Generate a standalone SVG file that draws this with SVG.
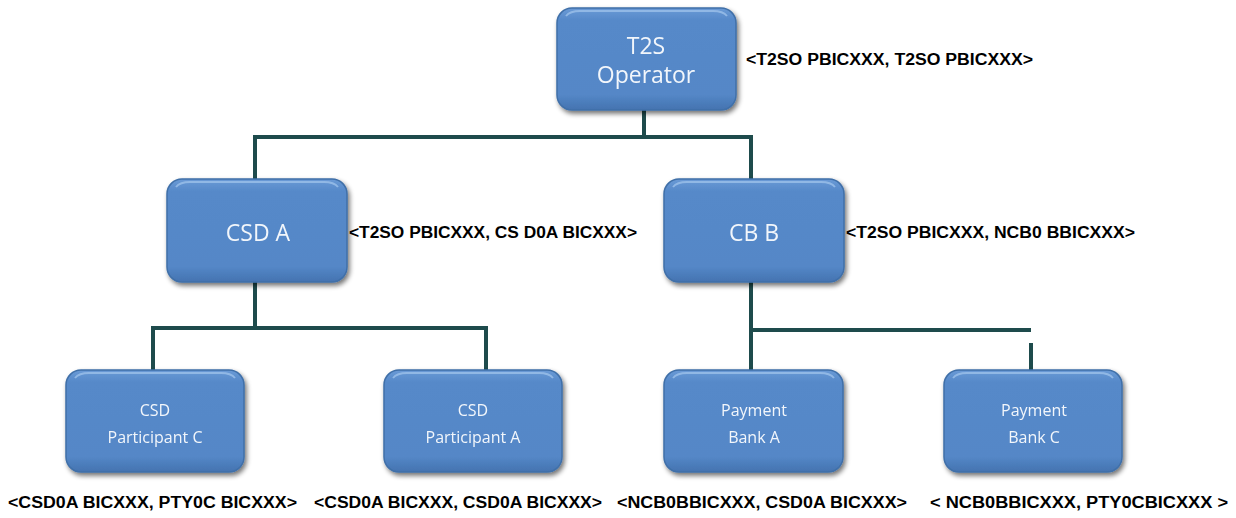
<svg xmlns="http://www.w3.org/2000/svg" width="1236" height="518" viewBox="0 0 1236 518">
<style>
.box{fill:url(#g);stroke:#3f6fa8;stroke-width:1.5}
.hl{fill:none;stroke:#9cc0ea;stroke-width:2;opacity:0.8}
.nt{font-family:"Open Sans","Liberation Sans",sans-serif;fill:#f2f6fb;text-anchor:middle}
.big{font-size:23px}
.sm{font-size:16px}
.lb{font-family:"Liberation Sans",Arial,sans-serif;font-weight:bold;font-size:16px;fill:#000}
.cn{fill:none;stroke:#1e4b4c;stroke-width:4}
</style>
<defs>
<linearGradient id="g" x1="0" y1="0" x2="0" y2="1">
<stop offset="0" stop-color="#6a9ad6"/>
<stop offset="0.12" stop-color="#5689c9"/>
<stop offset="0.85" stop-color="#5487c7"/>
<stop offset="1" stop-color="#4473b0"/>
</linearGradient>
<filter id="sh" x="-10%" y="-10%" width="125%" height="130%">
<feGaussianBlur in="SourceAlpha" stdDeviation="2.5"/>
<feOffset dx="2" dy="3" result="b"/>
<feComponentTransfer><feFuncA type="linear" slope="0.55"/></feComponentTransfer>
<feMerge><feMergeNode/><feMergeNode in="SourceGraphic"/></feMerge>
</filter>
</defs>
<g id="connectors">
<path class="cn" d="M644 110 V137 M255 137 H751 M255 135 V179 M751 135 V179"/>
<path class="cn" d="M255 282 V328 M153 328 H486 M153 326 V370 M486 326 V370"/>
<path class="cn" d="M751 282 V370 M749 330 H1031 M1031 343 V372"/>
</g>
<g id="t2s" filter="url(#sh)">
<rect class="box" x="557" y="8" width="179" height="102" rx="15"/>
<path class="hl" d="M566 16 Q570 11 580 11 H713 Q723 11 727 16"/>
<text class="nt big" x="646" y="54">T2S</text>
<text class="nt big" x="646" y="83">Operator</text>
</g>
<text class="lb" x="746" y="65" textLength="287" lengthAdjust="spacingAndGlyphs">&lt;T2SO PBICXXX, T2SO PBICXXX&gt;</text>
<g id="csda" filter="url(#sh)">
<rect class="box" x="167" y="179" width="180" height="103" rx="15"/>
<path class="hl" d="M176 187 Q180 182 190 182 H324 Q334 182 338 187"/>
<text class="nt big" x="258" y="241">CSD A</text>
</g>
<text class="lb" x="349" y="238" textLength="288" lengthAdjust="spacingAndGlyphs">&lt;T2SO PBICXXX, CS D0A BICXXX&gt;</text>
<g id="cbb" filter="url(#sh)">
<rect class="box" x="664" y="179" width="180" height="103" rx="15"/>
<path class="hl" d="M673 187 Q677 182 687 182 H821 Q831 182 835 187"/>
<text class="nt big" x="754" y="241">CB B</text>
</g>
<text class="lb" x="846" y="238" textLength="289" lengthAdjust="spacingAndGlyphs">&lt;T2SO PBICXXX, NCB0 BBICXXX&gt;</text>
<g id="cspc" filter="url(#sh)">
<rect class="box" x="66" y="370" width="178" height="102" rx="15"/>
<path class="hl" d="M75 378 Q79 373 89 373 H221 Q231 373 235 378"/>
<text class="nt sm" x="155" y="416">CSD</text>
<text class="nt sm" x="155" y="443">Participant C</text>
</g>
<text class="lb" x="8" y="508" textLength="289" lengthAdjust="spacingAndGlyphs">&lt;CSD0A BICXXX, PTY0C BICXXX&gt;</text>
<g id="cspa" filter="url(#sh)">
<rect class="box" x="384" y="370" width="178" height="102" rx="15"/>
<path class="hl" d="M393 378 Q397 373 407 373 H539 Q549 373 553 378"/>
<text class="nt sm" x="473" y="416">CSD</text>
<text class="nt sm" x="473" y="443">Participant A</text>
</g>
<text class="lb" x="314" y="508" textLength="288" lengthAdjust="spacingAndGlyphs">&lt;CSD0A BICXXX, CSD0A BICXXX&gt;</text>
<g id="pba" filter="url(#sh)">
<rect class="box" x="664" y="370" width="179" height="102" rx="15"/>
<path class="hl" d="M673 378 Q677 373 687 373 H820 Q830 373 834 378"/>
<text class="nt sm" x="754" y="416">Payment</text>
<text class="nt sm" x="754" y="443">Bank A</text>
</g>
<text class="lb" x="617" y="508" textLength="290" lengthAdjust="spacingAndGlyphs">&lt;NCB0BBICXXX, CSD0A BICXXX&gt;</text>
<g id="pbc" filter="url(#sh)">
<rect class="box" x="944" y="370" width="178" height="102" rx="15"/>
<path class="hl" d="M953 378 Q957 373 967 373 H1099 Q1109 373 1113 378"/>
<text class="nt sm" x="1034" y="416">Payment</text>
<text class="nt sm" x="1034" y="443">Bank C</text>
</g>
<text class="lb" x="930" y="508" textLength="298" lengthAdjust="spacingAndGlyphs">&lt; NCB0BBICXXX, PTY0CBICXXX &gt;</text>
</svg>
